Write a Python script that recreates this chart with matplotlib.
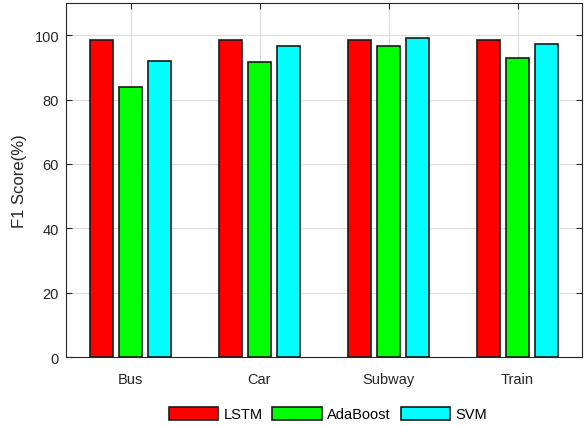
import matplotlib
matplotlib.use("Agg")
import matplotlib.pyplot as plt
import numpy as np

categories = ["Bus", "Car", "Subway", "Train"]
series_names = ["LSTM", "AdaBoost", "SVM"]
lstm = [98.5, 98.5, 98.5, 98.5]
adaboost = [84.0, 91.8, 96.6, 92.9]
svm = [92.0, 96.6, 99.2, 97.4]
colors = ["#ff0000", "#00ff00", "#00ffff"]

plt.rcParams['font.family'] = ['Liberation Sans', 'DejaVu Sans']

fig = plt.figure(figsize=(5.84, 4.27), dpi=100)
ax = fig.add_axes([66/584, 1-358/427, (582-66)/584, (358-4)/427])

x = np.arange(1, len(categories) + 1)
off = 0.225
w = 0.178
for i, (vals, name) in enumerate(zip([lstm, adaboost, svm], series_names)):
    ax.bar(x + (i - 1) * off, vals, w, color=colors[i], edgecolor='#1a1a1a',
           linewidth=1.2, label=name, zorder=3)

ax.set_xlim(0.5, 4.5)
ax.set_ylim(0, 110)
ax.set_xticks(x)
ax.set_xticklabels(categories)
ax.set_yticks([0, 20, 40, 60, 80, 100])
ax.grid(True, color='#dcdcdc', linewidth=0.8, zorder=0)
ax.tick_params(direction='in', top=True, right=True, length=4, width=0.8,
               colors='#262626', labelsize=10.5)
ax.tick_params(axis='x', pad=11)
ax.tick_params(axis='y', pad=5)
for s in ax.spines.values():
    s.set_color('#262626')
    s.set_linewidth(0.8)
ax.set_ylabel("F1 Score(%)", fontsize=12, color='#262626', labelpad=5)

leg = fig.legend(loc='center', bbox_to_anchor=(328/584, 1-415/427), ncol=3,
                 frameon=False, fontsize=10.5, handlelength=3.4, handleheight=1.0,
                 columnspacing=0.68, handletextpad=0.36)
for p in leg.get_patches():
    p.set_linewidth(1.2)

fig.savefig("out.png", dpi=100)
